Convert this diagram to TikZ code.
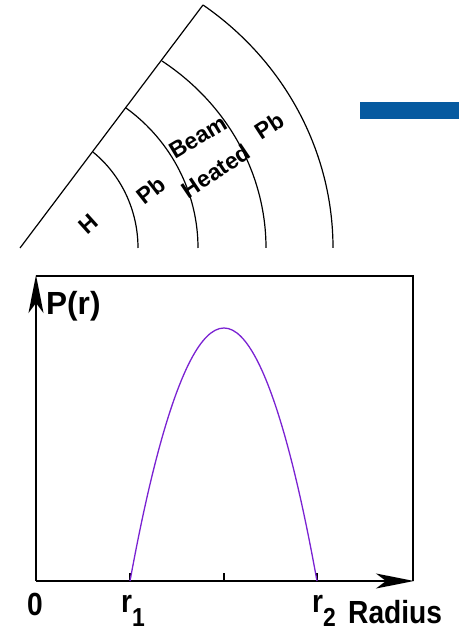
\documentclass[tikz,border=0pt]{standalone}
\usepackage{fontspec}
\setmainfont{Liberation Sans}
\usetikzlibrary{arrows.meta}
\definecolor{barblue}{HTML}{065AA0}
\definecolor{curveviolet}{HTML}{7A22D2}
\newcommand{\lowidx}[1]{\raisebox{-14pt}{\fontsize{26}{26}\selectfont #1}}

\begin{document}
\begin{tikzpicture}[
  x=1pt, y=1pt,
  every node/.style={inner sep=0pt},
  axislabel/.style={font=\fontsize{32}{34}\selectfont\bfseries, xscale=0.88},
  layer/.style={font=\fontsize{23}{25}\selectfont\bfseries},
  shell/.style={draw=black, line width=1.2pt},
  frame/.style={draw=black, line width=1.4pt},
  axis/.style={draw=black, line width=2pt, -{Stealth[length=38pt, width=15pt, inset=10pt]}},
  curve/.style={draw=curveviolet, line width=1.3pt},
  tick/.style={draw=black, line width=1.4pt}
]
\useasboundingbox (0,0) rectangle (459,631);
\coordinate (O) at (20,383);
\coordinate (tip) at (203,626);
\draw[shell] (O) -- (tip);
\foreach \a/\b/\t in {118/122.1/51.8, 178/174.3/53.45, 246/229/54.74, 313/299.6/54.2}
  \draw[shell] (O) ++(\a,0) arc[start angle=0, end angle=\t, x radius=\a, y radius=\b];
\node[layer, rotate=42] (h) at (88,407) {H};
\node[layer, rotate=38] (pbin) at (151,441) {Pb};
\node[layer, rotate=31] (beam) at (198,494) {Beam};
\node[layer, rotate=34] (heated) at (216,460) {Heated};
\node[layer, rotate=33] (pbout) at (269,505) {Pb};
\fill[barblue] (360,512) rectangle (459,529);

\coordinate (orig) at (36,50);
\coordinate (ytop) at (36,356);
\coordinate (xend) at (414,50);
\coordinate (peak) at (224,303);
\draw[frame] (36,355) -- (413,355) -- (413,50);
\draw[axis] (orig) -- (ytop);
\draw[axis] (orig) -- (xend);
\foreach \x/\n in {130/t1, 224/tm, 317/t2} {
  \coordinate (\n) at (\x,50);
  \draw[tick] (\n) -- ++(0,8);
}
\draw[curve] (t1) parabola bend (peak) (t2);
\node[axislabel, xscale=1.12, anchor=base west] (py) at (46,316) {P(r)};
\node[axislabel, anchor=base] (zero) at (35,16) {0};
\node[axislabel, anchor=base west] (rone) at (121,18) {r\lowidx{1}};
\node[axislabel, anchor=base west] (rtwo) at (312,18) {r\lowidx{2}};
\node[axislabel, anchor=base west] (radius) at (348,8) {Radius};
\end{tikzpicture}
\end{document}
